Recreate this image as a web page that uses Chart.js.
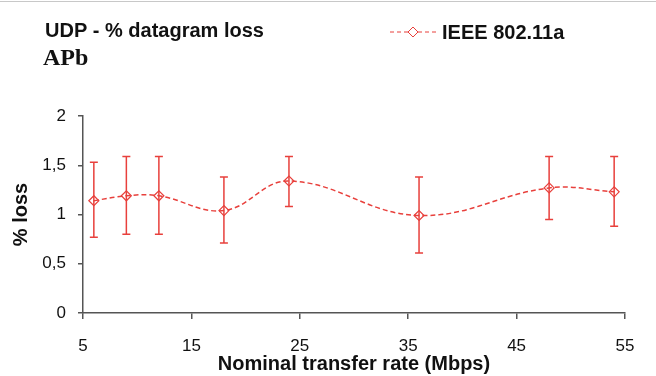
<!DOCTYPE html>
<html lang="en">
<head>
    <meta charset="UTF-8">
    <title>UDP - % datagram loss</title>
    <script src="https://cdn.jsdelivr.net/npm/chart.js"></script>
    <style>
        html, body { margin: 0; padding: 0; background: #fff; }
        #wrap { width: 656px; height: 376px; position: relative; }
    </style>
</head>
<body>
    <div id="wrap"><canvas id="lossChart"></canvas></div>

    <script>
        // Data
        const rates = [6, 9, 12, 18, 24, 36, 48, 54];
        const lossMean = [1.14, 1.19, 1.19, 1.04, 1.34, 0.99, 1.27, 1.23];
        const lossLow = [0.77, 0.80, 0.80, 0.71, 1.08, 0.61, 0.95, 0.88];
        const lossHigh = [1.53, 1.59, 1.59, 1.38, 1.59, 1.38, 1.59, 1.59];
        const xTicks = [5, 15, 25, 35, 45, 55];
        const yTicks = [0, 0.5, 1, 1.5, 2];

        const red = '#e8403c';
        const axisColor = '#555';
        const sans = '"Liberation Sans", Arial, sans-serif';

        // Error bars drawn through the chart scales
        const errorBars = {
            id: 'errorBars',
            afterDatasetsDraw(chart) {
                const ctx = chart.ctx;
                const x = chart.scales.x, y = chart.scales.y;
                ctx.save();
                ctx.strokeStyle = red;
                ctx.lineWidth = 1.5;
                rates.forEach((r, i) => {
                    const px = x.getPixelForValue(r);
                    const top = y.getPixelForValue(lossHigh[i]);
                    const bot = y.getPixelForValue(lossLow[i]);
                    ctx.beginPath();
                    ctx.moveTo(px, top); ctx.lineTo(px, bot);
                    ctx.moveTo(px - 4, top); ctx.lineTo(px + 4, top);
                    ctx.moveTo(px - 4, bot); ctx.lineTo(px + 4, bot);
                    ctx.stroke();
                });
                ctx.restore();
            }
        };

        // Title, subtitle and legend in the header
        const header = {
            id: 'header',
            afterDraw(chart) {
                const ctx = chart.ctx;
                ctx.save();
                ctx.strokeStyle = '#c8c8c8';
                ctx.lineWidth = 1;
                ctx.beginPath(); ctx.moveTo(0, 1.5); ctx.lineTo(656, 1.5); ctx.stroke();

                ctx.fillStyle = '#111';
                ctx.textBaseline = 'alphabetic';
                ctx.font = 'bold 20px ' + sans;
                ctx.fillText('UDP - % datagram loss', 45, 37);
                ctx.font = 'bold 24px "Liberation Serif", "Times New Roman", serif';
                ctx.fillText('APb', 43, 65);

                // legend
                const ds = chart.data.datasets[0];
                const ly = 32;
                ctx.strokeStyle = red;
                ctx.lineWidth = 1;
                ctx.setLineDash([4, 3]);
                ctx.beginPath(); ctx.moveTo(390, ly); ctx.lineTo(436, ly); ctx.stroke();
                ctx.setLineDash([]);
                ctx.fillStyle = '#fff';
                ctx.beginPath();
                ctx.moveTo(413, ly - 5); ctx.lineTo(418, ly); ctx.lineTo(413, ly + 5); ctx.lineTo(408, ly);
                ctx.closePath(); ctx.fill(); ctx.stroke();
                ctx.fillStyle = '#111';
                ctx.font = 'bold 20px ' + sans;
                ctx.fillText(ds.label, 442, 39);
                ctx.restore();
            }
        };

        new Chart(document.getElementById('lossChart'), {
            type: 'line',
            data: {
                datasets: [{
                    label: 'IEEE 802.11a',
                    data: rates.map((r, i) => ({ x: r, y: lossMean[i] })),
                    borderColor: red,
                    borderWidth: 1.5,
                    borderDash: [5, 3],
                    tension: 0.4,
                    pointStyle: 'rectRot',
                    pointRadius: 5,
                    pointBorderColor: red,
                    pointBackgroundColor: 'rgba(255,255,255,0)',
                    pointBorderWidth: 1.2
                }]
            },
            options: {
                responsive: true,
                maintainAspectRatio: false,
                animation: false,
                layout: { padding: { top: 116, right: 31, left: 0, bottom: 0 } },
                plugins: {
                    legend: { display: false },
                    tooltip: { enabled: false }
                },
                scales: {
                    x: {
                        type: 'linear',
                        min: 5,
                        max: 55,
                        afterBuildTicks: s => { s.ticks = xTicks.map(v => ({ value: v })); },
                        afterFit: s => { s.height = 63; },
                        border: { color: axisColor, width: 1.5 },
                        grid: { drawOnChartArea: false, drawTicks: true, tickLength: 6, color: axisColor, lineWidth: 1.5 },
                        ticks: {
                            color: '#111',
                            padding: 17,
                            maxRotation: 0,
                            font: { family: sans, size: 17 }
                        },
                        title: {
                            display: true,
                            text: 'Nominal transfer rate (Mbps)',
                            color: '#111',
                            padding: { top: 0, bottom: 0 },
                            font: { family: sans, size: 20, weight: 'bold' }
                        }
                    },
                    y: {
                        min: 0,
                        max: 2,
                        afterBuildTicks: s => { s.ticks = yTicks.map(v => ({ value: v })); },
                        afterFit: s => { s.width = 83; },
                        border: { color: axisColor, width: 1.5 },
                        grid: { drawOnChartArea: false, drawTicks: true, tickLength: 5, color: axisColor, lineWidth: 1.5 },
                        ticks: {
                            color: '#111',
                            padding: 12,
                            callback: v => String(v).replace('.', ','),
                            font: { family: sans, size: 17 }
                        },
                        title: {
                            display: true,
                            text: '% loss',
                            color: '#111',
                            padding: { top: 9, bottom: 0 },
                            font: { family: sans, size: 20, weight: 'bold' }
                        }
                    }
                }
            },
            plugins: [errorBars, header]
        });
    </script>
</body>
</html>
